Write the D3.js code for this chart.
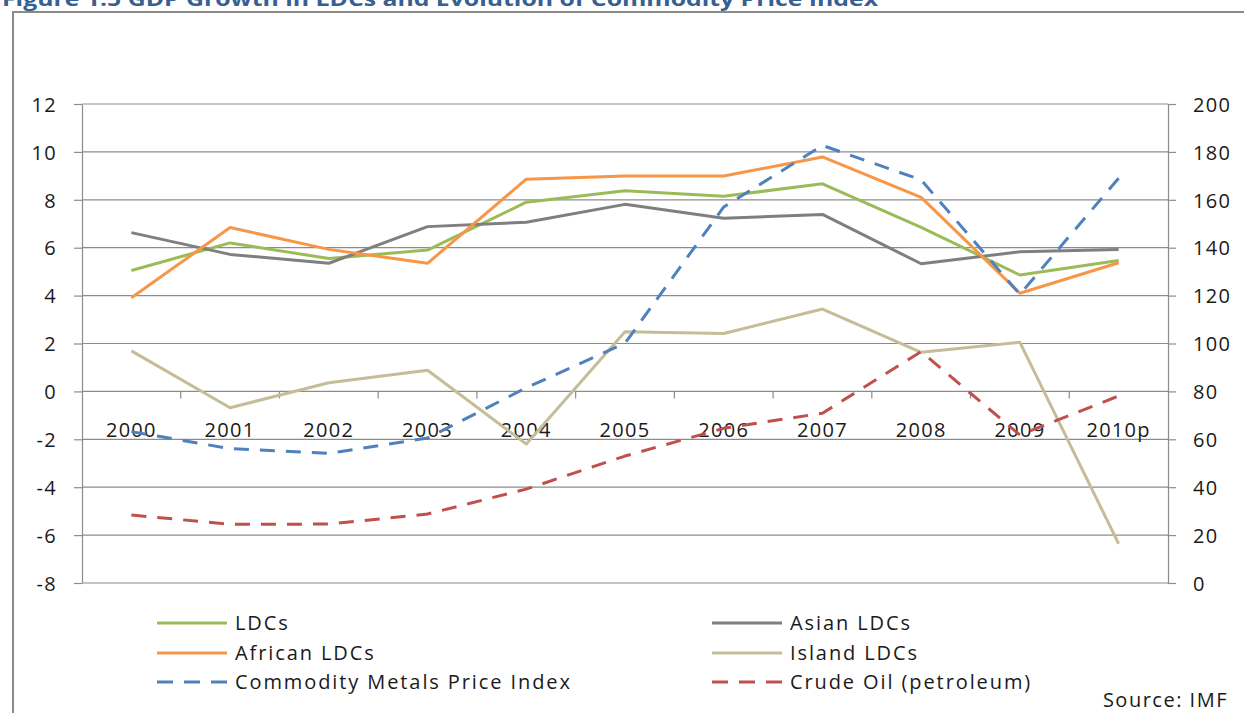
<!DOCTYPE html>
<html>
<head>
<meta charset="utf-8">
<script src="https://cdn.jsdelivr.net/npm/d3@7"></script>
<style>
  body { margin: 0; background: #fff; }
  svg { display: block; }
  text { font-family: "Open Sans", sans-serif; fill: #1a1a1a; }
</style>
</head>
<body>
<svg width="1244" height="713"></svg>
<script>
// values
const years = ['2000', '2001', '2002', '2003', '2004', '2005', '2006', '2007', '2008', '2009', '2010p'];
const ldcs = [5.05, 6.2, 5.55, 5.9, 7.9, 8.38, 8.15, 8.67, 6.85, 4.86, 5.47];
const asianLdcs = [6.63, 5.72, 5.35, 6.88, 7.06, 7.81, 7.23, 7.39, 5.33, 5.83, 5.93];
const africanLdcs = [3.91, 6.84, 5.93, 5.35, 8.86, 8.99, 8.99, 9.79, 8.1, 4.1, 5.37];
const islandLdcs = [1.69, -0.68, 0.36, 0.88, -2.2, 2.49, 2.42, 3.44, 1.63, 2.05, -6.36];
const metalsIndex = [63.2, 56.1, 54.1, 60.5, 81.5, 100.1, 157, 182.7, 168.3, 120.5, 169];
const crudeOil = [28.4, 24.5, 24.6, 28.8, 39.2, 53, 64.6, 70.9, 96.6, 61.8, 78.1];
const leftTicks = [-8, -6, -4, -2, 0, 2, 4, 6, 8, 10, 12];
const rightTicks = [0, 20, 40, 60, 80, 100, 120, 140, 160, 180, 200];

const series = [
  {name: 'LDCs', values: ldcs, axis: 'left', color: '#9bbb59', dash: null},
  {name: 'Asian LDCs', values: asianLdcs, axis: 'left', color: '#7f7f7f', dash: null},
  {name: 'African LDCs', values: africanLdcs, axis: 'left', color: '#f79646', dash: null},
  {name: 'Island LDCs', values: islandLdcs, axis: 'left', color: '#c4bd97', dash: null},
  {name: 'Commodity Metals Price Index', values: metalsIndex, axis: 'right', color: '#4f81bd', dash: '15,11'},
  {name: 'Crude Oil (petroleum)', values: crudeOil, axis: 'right', color: '#c0504d', dash: '15,11'}
];

const svg = d3.select('svg');
const plot = {left: 82, right: 1168, top: 104, bottom: 583};
const gridColor = '#8c8c8c';

const x = d3.scaleBand().domain(years).range([plot.left, plot.right]);
const yL = d3.scaleLinear().domain([-8, 12]).range([plot.bottom, plot.top]);
const yR = d3.scaleLinear().domain([0, 200]).range([plot.bottom, plot.top]);

// title, mostly cut off at the top of the page like in the source
svg.append('text')
  .attr('x', 2).attr('y', 6)
  .attr('textLength', 876).attr('lengthAdjust', 'spacingAndGlyphs')
  .style('font-size', '19px').style('font-weight', 'bold').style('fill', '#376092')
  .text('Figure 1.5 GDP Growth in LDCs and Evolution of Commodity Price Index');

// frame round the chart
svg.append('rect')
  .attr('x', 13).attr('y', 12).attr('width', 1260).attr('height', 730)
  .attr('fill', 'none').attr('stroke', '#8a8a8a').attr('stroke-width', 2);

// gridlines
svg.append('g')
  .selectAll('line')
  .data(leftTicks)
  .join('line')
    .attr('x1', plot.left).attr('x2', plot.right)
    .attr('y1', d => yL(d)).attr('y2', d => yL(d))
    .attr('stroke', gridColor).attr('stroke-width', 1.2);

function styleAxis(g) {
  g.selectAll('path, line').attr('stroke', gridColor).attr('stroke-width', 1.2);
  g.selectAll('text').style('font-size', '20px').style('letter-spacing', '1.3px').style('fill', '#1a1a1a');
}

// plain hyphen for negatives, as in the source
const plain = d => String(d);

svg.append('g')
  .attr('transform', 'translate(' + plot.left + ',0)')
  .call(d3.axisLeft(yL).tickValues(leftTicks).tickFormat(plain).tickSize(8).tickSizeOuter(0).tickPadding(17))
  .call(styleAxis)
  .call(g => g.selectAll('text').attr('dy', '0.36em'));

svg.append('g')
  .attr('transform', 'translate(' + plot.right + ',0)')
  .call(d3.axisRight(yR).tickValues(rightTicks).tickFormat(plain).tickSize(8).tickSizeOuter(0).tickPadding(17))
  .call(styleAxis)
  .call(g => g.selectAll('text').attr('dy', '0.36em'));

// category axis sits on the zero line, ticks between categories
const xAxis = svg.append('g')
  .attr('transform', 'translate(0,' + yL(0) + ')')
  .call(d3.axisBottom(x).tickSize(0).tickPadding(31).tickSizeOuter(0))
  .call(styleAxis);
xAxis.select('.domain').remove();
xAxis.selectAll('.between')
  .data(years.slice(1))
  .join('line')
    .attr('class', 'between')
    .attr('x1', d => x(d)).attr('x2', d => x(d))
    .attr('y1', 0).attr('y2', 7)
    .attr('stroke', gridColor).attr('stroke-width', 1.2);

// series lines
const cx = i => x(years[i]) + x.bandwidth() / 2;
svg.append('g')
  .selectAll('path')
  .data(series)
  .join('path')
    .attr('fill', 'none')
    .attr('stroke', d => d.color)
    .attr('stroke-width', 3)
    .attr('stroke-dasharray', d => d.dash)
    .attr('stroke-linejoin', 'round')
    .attr('d', d => {
      const y = d.axis === 'left' ? yL : yR;
      return d3.line()
        .x((v, i) => cx(i))
        .y(v => y(v))(d.values);
    });

// legend, two columns
const legendCols = [157, 712];
const legendRows = [623, 653, 682];
const legend = svg.append('g')
  .selectAll('g')
  .data(series)
  .join('g')
    .attr('transform', (d, i) => 'translate(' + legendCols[i % 2] + ',' + legendRows[Math.floor(i / 2)] + ')');
legend.append('line')
  .attr('x1', 0).attr('x2', 70)
  .attr('stroke', d => d.color).attr('stroke-width', 3)
  .attr('stroke-dasharray', d => d.dash ? '16,11' : null);
legend.append('text')
  .attr('x', 78).attr('dy', '0.36em')
  .style('font-size', '20px').style('letter-spacing', '1.9px')
  .text(d => d.name);

svg.append('text')
  .attr('x', 1228).attr('y', 707)
  .attr('text-anchor', 'end')
  .style('font-size', '20px').style('letter-spacing', '1.5px')
  .text('Source: IMF');
</script>
</body>
</html>
